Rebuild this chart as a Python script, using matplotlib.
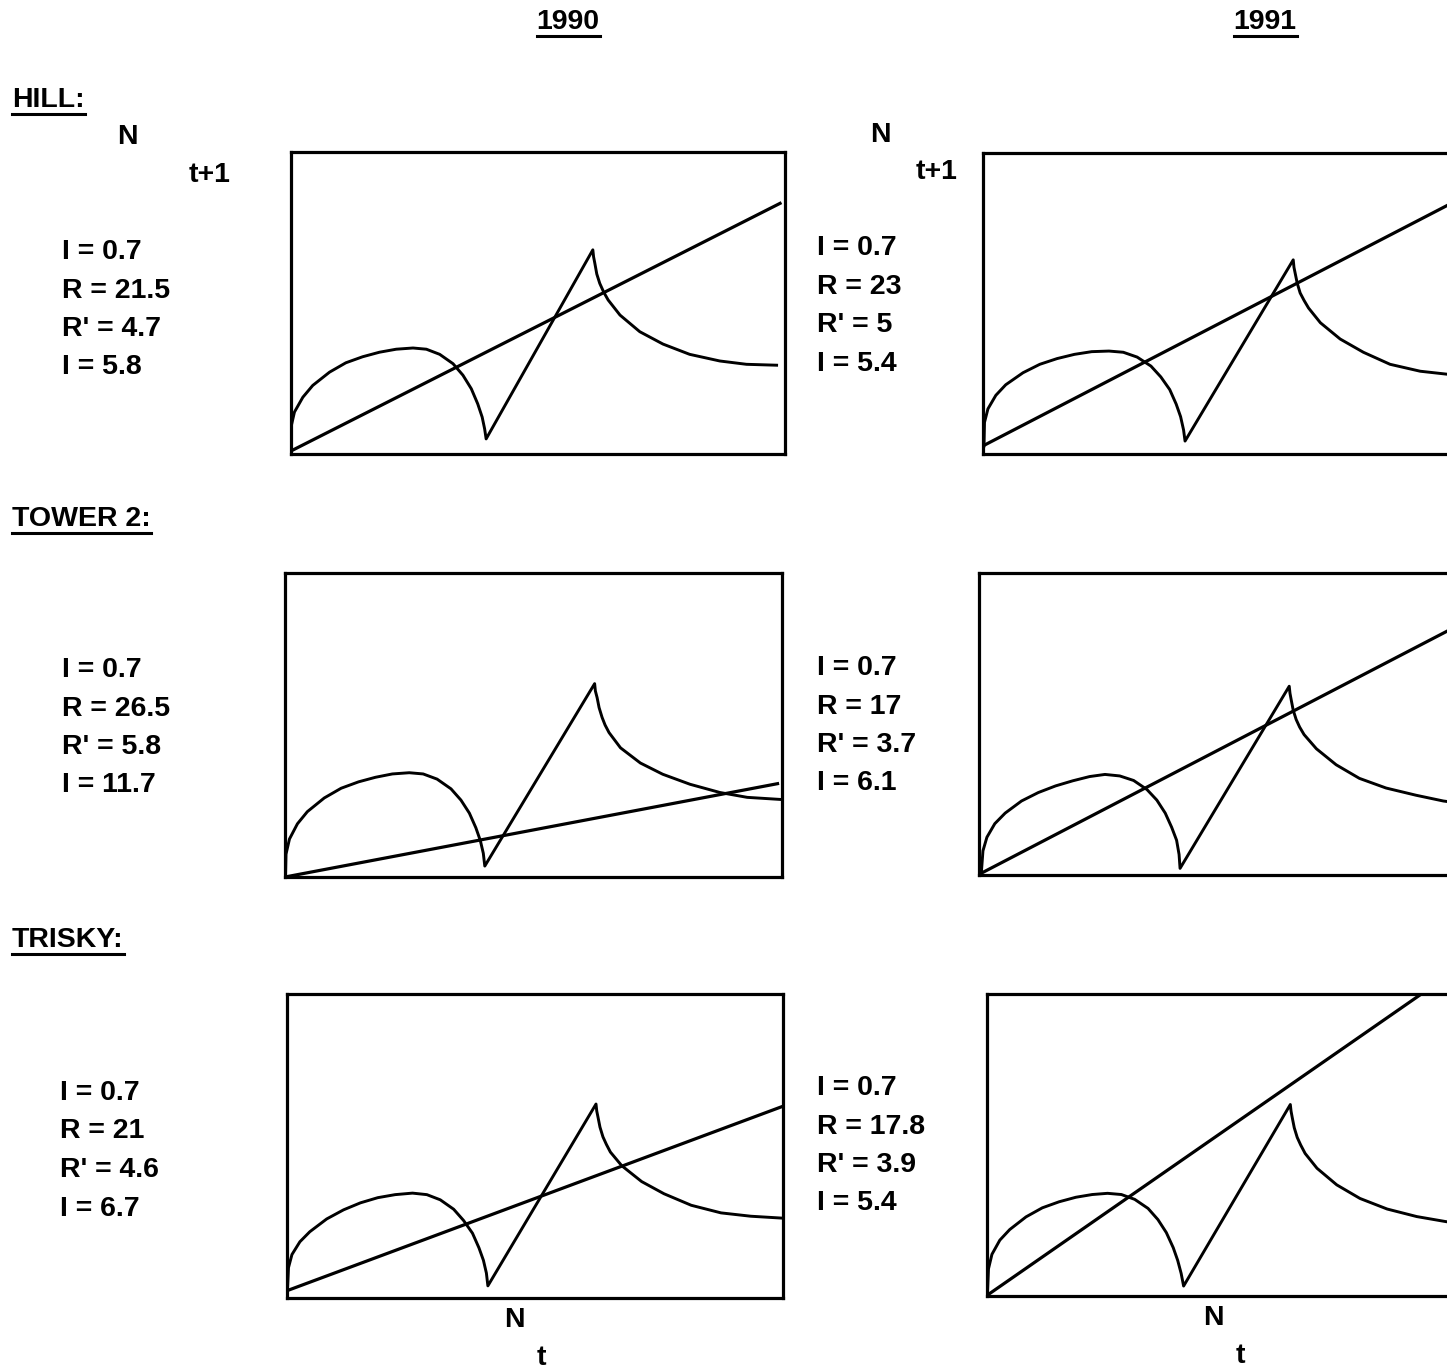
import numpy as np
import matplotlib
matplotlib.use("Agg")
import matplotlib.pyplot as plt
from matplotlib.lines import Line2D

plt.rcParams['font.family'] = ['Liberation Sans', 'DejaVu Sans']

W, H = 1447, 1370

years = ['1990', '1991']
sites = ['HILL:', 'TOWER 2:', 'TRISKY:']

# stats printed beside each panel (row = site, col = year)
stats = [
    [['I = 0.7', 'R = 21.5', "R' = 4.7", 'I = 5.8'],
     ['I = 0.7', 'R = 23', "R' = 5", 'I = 5.4']],
    [['I = 0.7', 'R = 26.5', "R' = 5.8", 'I = 11.7'],
     ['I = 0.7', 'R = 17', "R' = 3.7", 'I = 6.1']],
    [['I = 0.7', 'R = 21', "R' = 4.6", 'I = 6.7'],
     ['I = 0.7', 'R = 17.8', "R' = 3.9", 'I = 5.4']],
]

# N(t) -> N(t+1) curves (0-100 on both axes)
hill_1990_x = [0, 0, 0.7, 2.4, 4.4, 7.8, 11.1, 14.5, 17.9, 21.3, 24.7, 27.4, 30.1, 32.8, 34.8, 36.5, 37.8, 38.7, 39.2, 39.5,
               61.1, 61.25, 61.5, 61.9, 62.5, 63.3, 64.2, 66.6, 70.6, 75.3, 80.7, 86.8, 92.2, 98.3]
hill_1990_y = [0.6, 8.9, 13.9, 18.8, 22.7, 27.1, 30.2, 32.2, 33.7, 34.7, 35.1, 34.7, 33.0, 29.9, 26.1, 21.6, 16.6, 12.2, 8.3, 5.0,
               67.6, 65.3, 63.2, 59.6, 56.5, 53.6, 51.0, 46.0, 40.5, 36.4, 33.0, 30.8, 29.7, 29.4]
hill_1991_x = [0.2, 0.3, 1.0, 2.6, 4.6, 8.1, 11.5, 15.0, 18.5, 22.0, 25.5, 28.4, 31.2, 34.0, 36.0, 37.8, 39.1, 40.0, 40.6, 40.9,
               62.8, 62.95, 63.2, 63.6, 64.2, 65.0, 65.9, 68.3, 72.3, 77.0, 82.4, 88.5, 94.0, 99.5]
hill_1991_y = [2.7, 10.5, 15.0, 19.5, 23.0, 27.0, 29.8, 31.7, 33.1, 34.0, 34.2, 33.8, 32.2, 29.2, 25.6, 21.4, 16.6, 12.4, 8.0, 4.3,
               64.5, 62.0, 60.0, 56.8, 53.5, 51.0, 48.5, 43.6, 38.2, 33.8, 29.8, 27.5, 26.5, 25.8]
tower_1990_x = [0.1, 0.2, 0.9, 2.5, 4.5, 7.9, 11.3, 14.8, 18.2, 21.6, 25.0, 27.8, 30.6, 33.4, 35.4, 37.1, 38.4, 39.3, 39.9, 40.2,
                62.3, 62.45, 62.8, 63.2, 63.8, 64.4, 65.2, 67.5, 71.5, 76.0, 81.5, 87.5, 93.0, 99.8]
tower_1990_y = [0.0, 7.5, 12.5, 17.5, 21.5, 26.0, 29.2, 31.3, 32.8, 33.9, 34.3, 33.9, 32.2, 29.0, 25.3, 21.0, 16.2, 12.0, 7.8, 3.6,
                63.6, 61.2, 59.0, 55.7, 52.5, 50.0, 47.5, 42.5, 37.5, 33.8, 30.5, 27.8, 26.2, 25.5]
tower_1991_x = [0.5, 0.8, 1.6, 3.2, 5.3, 8.6, 12.0, 15.5, 19.0, 22.4, 25.5, 28.5, 31.3, 34.0, 36.0, 37.7, 39.0, 40.0, 40.5, 40.7,
                62.8, 62.95, 63.2, 63.6, 64.2, 64.9, 65.8, 68.3, 72.3, 77.0, 82.4, 88.5, 94.0, 99.5]
tower_1991_y = [1.3, 8.0, 12.5, 17.0, 20.5, 24.5, 27.3, 29.5, 31.2, 32.6, 33.3, 32.8, 31.3, 28.3, 24.8, 20.5, 15.8, 11.5, 6.8, 2.2,
                62.5, 60.2, 58.0, 54.6, 51.5, 49.0, 46.5, 41.8, 36.5, 32.0, 28.8, 26.4, 24.5, 23.3]
trisky_1990_x = [0.1, 0.3, 1.0, 2.6, 4.6, 8.0, 11.4, 14.8, 18.3, 21.8, 25.3, 28.2, 30.9, 33.6, 35.6, 37.4, 38.7, 39.6, 40.2, 40.5,
                 62.3, 62.45, 62.7, 63.1, 63.7, 64.4, 65.2, 67.5, 71.5, 76.0, 81.5, 87.5, 93.5, 99.6]
trisky_1990_y = [2.9, 10.0, 14.3, 18.5, 21.8, 26.0, 29.0, 31.3, 33.0, 34.0, 34.5, 34.0, 32.3, 29.2, 25.5, 21.3, 16.5, 12.4, 8.2, 4.0,
                 63.8, 61.5, 59.5, 56.2, 53.0, 50.5, 48.0, 43.5, 38.3, 34.3, 30.5, 28.0, 26.9, 26.3]
trisky_1991_x = [0.1, 0.3, 1.0, 2.6, 4.6, 7.9, 11.2, 14.6, 18.0, 21.3, 24.4, 27.2, 29.9, 32.6, 34.6, 36.3, 37.7, 38.6, 39.3, 39.8,
                 61.4, 61.55, 61.8, 62.2, 62.8, 63.5, 64.4, 66.8, 70.8, 75.5, 81.0, 87.0, 93.0, 99.0]
trisky_1991_y = [1.3, 9.0, 13.8, 18.5, 22.0, 26.2, 29.2, 31.2, 32.7, 33.6, 34.0, 33.6, 32.0, 29.0, 25.3, 21.0, 16.0, 11.8, 7.5, 3.3,
                 63.4, 61.2, 59.0, 55.7, 52.5, 50.0, 47.2, 42.3, 36.8, 32.3, 28.8, 26.3, 24.6, 23.7]

# replacement line N(t+1) = N(t), end points
hill_1990_line = ([0, 99], [1.0, 83.0])
hill_1991_line = ([0, 100], [2.7, 87.7])
tower_1990_line = ([0, 99.1], [0.0, 30.7])
tower_1991_line = ([0, 100], [0.2, 85.2])
trisky_1990_line = ([0, 99.7], [2.4, 62.9])
trisky_1991_line = ([0, 100], [0.2, 113.7])

curves = [[(hill_1990_x, hill_1990_y), (hill_1991_x, hill_1991_y)],
          [(tower_1990_x, tower_1990_y), (tower_1991_x, tower_1991_y)],
          [(trisky_1990_x, trisky_1990_y), (trisky_1991_x, trisky_1991_y)]]
lines = [[hill_1990_line, hill_1991_line],
         [tower_1990_line, tower_1991_line],
         [trisky_1990_line, trisky_1991_line]]

# panel boxes in pixels: left, top, right, bottom
boxes = [[(291, 152, 785, 454), (983, 153, 1477, 454)],
         [(285, 573, 782, 877), (979, 573, 1473, 875)],
         [(287, 994, 783, 1298), (987, 994, 1481, 1296)]]

fig = plt.figure(figsize=(W / 100, H / 100), dpi=100)


def fx(px):
    return px / W


def fy(py):
    return 1 - py / H


for r in range(3):
    for c in range(2):
        l, t, rr, b = boxes[r][c]
        ax = fig.add_axes([fx(l), fy(b), (rr - l) / W, (b - t) / H])
        cx, cy = curves[r][c]
        ax.plot(cx, cy, color='black', lw=2.1, solid_joinstyle='round')
        lx, ly = lines[r][c]
        ax.plot(lx, ly, color='black', lw=2.3)
        ax.set_xlim(0, 100)
        ax.set_ylim(0, 100)
        ax.set_xticks([])
        ax.set_yticks([])
        for s in ax.spines.values():
            s.set_linewidth(2.3)

fs = 20.5
under = []

for txt, px in zip(years, [568, 1265]):
    under.append(fig.text(fx(px), fy(22), txt, ha='center', va='center', fontsize=fs, fontweight='bold'))

for txt, py in zip(sites, [100, 519, 940]):
    under.append(fig.text(fx(12), fy(py), txt, ha='left', va='center', fontsize=fs, fontweight='bold'))

# axis labels N(t+1) and N(t)
for (nx, ny), (sx, sy) in [((127, 137), (210, 175)), ((880, 135), (937, 172))]:
    fig.text(fx(nx), fy(ny), 'N', ha='center', va='center', fontsize=fs, fontweight='bold')
    fig.text(fx(sx), fy(sy), 't+1', ha='center', va='center', fontsize=fs, fontweight='bold')
for (nx, ny), (sx, sy) in [((514, 1320), (541, 1358)), ((1213, 1318), (1240, 1356))]:
    fig.text(fx(nx), fy(ny), 'N', ha='center', va='center', fontsize=fs, fontweight='bold')
    fig.text(fx(sx), fy(sy), 't', ha='center', va='center', fontsize=fs, fontweight='bold')

stat_pos = [[(62, 252), (817, 248)],
            [(62, 670), (817, 668)],
            [(60, 1093), (817, 1088)]]
for r in range(3):
    for c in range(2):
        x0, y0 = stat_pos[r][c]
        for i, s in enumerate(stats[r][c]):
            fig.text(fx(x0), fy(y0 + i * 38.5), s, ha='left', va='center', fontsize=fs, fontweight='bold')

# underline headings
fig.canvas.draw()
rend = fig.canvas.get_renderer()
for t in under:
    bb = t.get_window_extent(rend)
    yl = bb.y0 - 1
    fig.add_artist(Line2D([bb.x0 / W, bb.x1 / W], [yl / H, yl / H], transform=fig.transFigure,
                          color='black', lw=2.2))

fig.savefig('out.png', dpi=100)
